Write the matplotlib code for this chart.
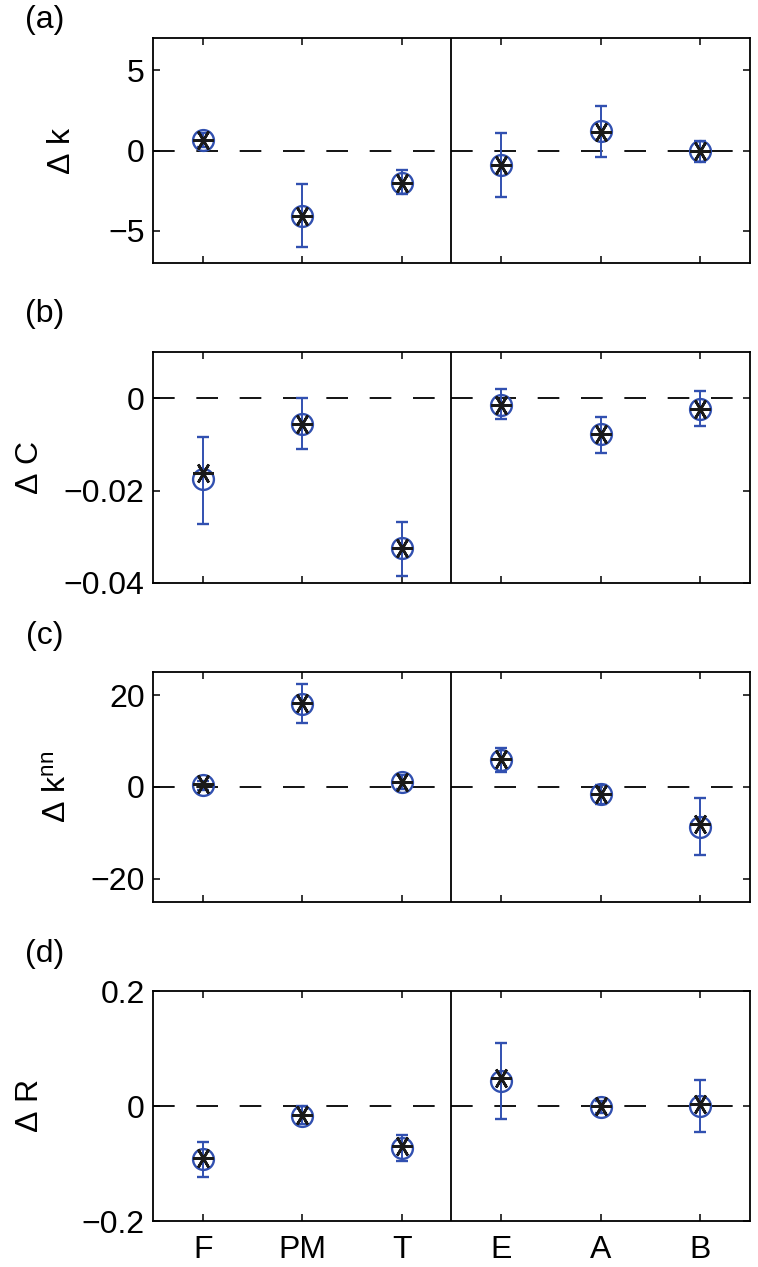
import numpy as np
import matplotlib
matplotlib.use("Agg")
import matplotlib.pyplot as plt

plt.rcParams['font.family'] = ['Liberation Sans', 'DejaVu Sans']
plt.rcParams['mathtext.fontset'] = 'custom'
plt.rcParams['mathtext.rm'] = 'Liberation Sans'
plt.rcParams['mathtext.it'] = 'Liberation Sans'

groups = ['F', 'PM', 'T', 'E', 'A', 'B']

# panel (a) delta k
k_mean = [0.65, -4.1, -2.0, -0.9, 1.2, 0.0]
k_top = [1.1, -2.1, -1.2, 1.1, 2.75, 0.6]
k_bot = [0.2, -6.0, -2.7, -2.9, -0.4, -0.7]
k_star = [0.65, -4.1, -2.0, -0.9, 1.15, 0.0]

# panel (b) delta C
C_mean = [-0.0176, -0.0055, -0.0325, -0.0014, -0.0078, -0.0023]
C_top = [-0.0085, 0.0, -0.0268, 0.0019, -0.0040, 0.0015]
C_bot = [-0.0272, -0.0111, -0.0385, -0.0046, -0.0119, -0.0061]
C_star = [-0.0163, -0.0055, -0.0325, -0.0014, -0.0078, -0.0023]

# panel (c) delta k^nn
knn_mean = [0.4, 18.1, 1.1, 5.9, -1.6, -8.7]
knn_top = [1.4, 22.3, 2.6, 8.5, 0.4, -2.5]
knn_bot = [-0.6, 14.0, -0.4, 3.3, -3.6, -14.7]
knn_star = [0.6, 18.3, 1.1, 6.0, -1.5, -8.1]

# panel (d) delta R
R_mean = [-0.093, -0.0175, -0.073, 0.044, -0.002, 0.0]
R_top = [-0.063, 0.0, -0.05, 0.109, 0.008, 0.045]
R_bot = [-0.124, -0.032, -0.095, -0.022, -0.012, -0.045]
R_star = [-0.09, -0.015, -0.07, 0.049, 0.0, 0.004]

panels = [
    ('(a)', r'$\Delta\ \mathrm{k}$', k_mean, k_top, k_bot, k_star, (-7, 7), [-5, 0, 5], ['\u22125', '0', '5']),
    ('(b)', r'$\Delta\ \mathrm{C}$', C_mean, C_top, C_bot, C_star, (-0.04, 0.01), [-0.04, -0.02, 0], ['\u22120.04', '\u22120.02', '0']),
    ('(c)', r'$\Delta\ \mathrm{k}^{\mathrm{nn}}$', knn_mean, knn_top, knn_bot, knn_star, (-25, 25), [-20, 0, 20], ['\u221220', '0', '20']),
    ('(d)', r'$\Delta\ \mathrm{R}$', R_mean, R_top, R_bot, R_star, (-0.2, 0.2), [-0.2, 0, 0.2], ['\u22120.2', '0', '0.2']),
]

# axes boxes [left, bottom, width, height] in figure fraction
boxes = [
    [0.202, 0.7924, 0.787, 0.1776],
    [0.202, 0.5399, 0.787, 0.1823],
    [0.202, 0.2881, 0.787, 0.1815],
    [0.202, 0.0363, 0.787, 0.1815],
]
label_y = [0.984, 0.752, 0.498, 0.247]
ylabel_x = [-0.152, -0.206, -0.16, -0.206]

blue = '#3150b0'
fig = plt.figure(figsize=(7.58, 12.67), dpi=100)
x = np.arange(1, len(groups) + 1)

for i, (tag, ylab, mean, top, bot, star, ylim, yt, ytl) in enumerate(panels):
    ax = fig.add_axes(boxes[i])
    mean = np.array(mean)
    yerr = [mean - np.array(bot), np.array(top) - mean]
    ax.plot([0.5, 3.5], [0, 0], color='black', lw=1.3, ls=(0, (12, 12)), zorder=1)
    ax.plot([3.5, 6.5], [0, 0], color='black', lw=1.3, ls=(0, (12, 12)), zorder=1)
    ax.axvline(3.5, color='black', lw=1.3, zorder=1)
    ax.errorbar(x, mean, yerr=yerr, fmt='o', mfc='none', mec=blue, color=blue,
                ms=15, mew=1.7, elinewidth=1.4, capsize=4, capthick=1.5, zorder=3)
    ax.plot(x, star, ls='none', marker=(6, 2, 90), ms=15, mew=1.9, color='#1a1a1a', zorder=4)
    ax.set_xlim(0.5, 6.5)
    ax.set_ylim(*ylim)
    ax.set_yticks(yt)
    ax.set_yticklabels(ytl)
    ax.set_xticks(x)
    if i == 3:
        ax.set_xticklabels(groups)
    else:
        ax.set_xticklabels([])
    ax.tick_params(direction='in', top=True, right=True, length=5, width=1.1,
                   labelsize=23, pad=6)
    ax.tick_params(axis='x', pad=10)
    for s in ax.spines.values():
        s.set_linewidth(1.3)
    ax.text(ylabel_x[i], 0.5, ylab, transform=ax.transAxes, rotation=90,
            ha='center', va='center', fontsize=23)
    fig.text(0.059, label_y[i], tag, fontsize=23, ha='center', va='center')

fig.savefig('out.png', dpi=100)
